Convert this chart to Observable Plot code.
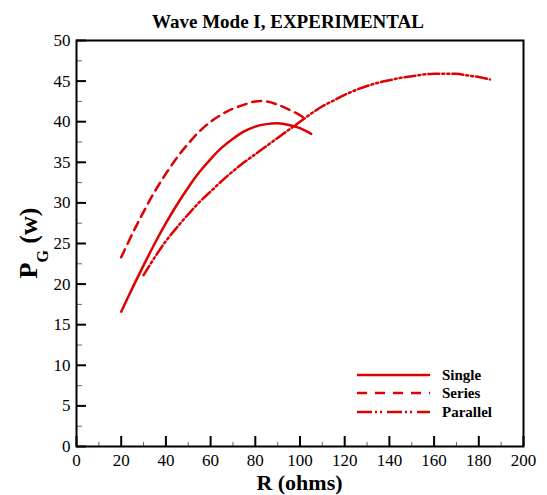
<!DOCTYPE html>
<html>
<head>
<meta charset="utf-8">
<script src="https://cdn.jsdelivr.net/npm/d3@7"></script>
<script src="https://cdn.jsdelivr.net/npm/@observablehq/plot@0.6"></script>
<style>
  html, body { margin: 0; padding: 0; background: #fff; }
  #chart svg { display: block; }
  #chart svg, #chart svg text { font-family: "Liberation Serif", "Times New Roman", Times, serif !important; }
</style>
</head>
<body>
<div id="chart"></div>
<script>
// ---- data ----
const titleText = "Wave Mode I, EXPERIMENTAL";
const seriesNames = ["Single", "Series", "Parallel"];

const singleR = [20, 25, 30, 35, 40, 45, 50, 55, 60, 65, 70, 75, 80, 85, 90, 95, 100, 105];
const singleP = [16.6, 19.5, 22.3, 25.0, 27.5, 29.8, 31.9, 33.8, 35.4, 36.8, 37.9, 38.8, 39.4, 39.7, 39.8, 39.6, 39.2, 38.5];

const seriesR = [20, 25, 30, 35, 40, 45, 50, 55, 60, 65, 70, 75, 80, 85, 90, 95, 100, 102];
const seriesP = [23.3, 26.2, 28.9, 31.4, 33.6, 35.6, 37.3, 38.8, 40.0, 40.9, 41.6, 42.1, 42.5, 42.5, 42.1, 41.5, 40.8, 40.4];

const parallelR = [30, 35, 40, 45, 50, 55, 60, 65, 70, 75, 80, 85, 90, 95, 100, 105, 110, 115, 120, 125, 130, 135, 140, 145, 150, 155, 160, 165, 170, 175, 180, 185];
const parallelP = [21.1, 23.3, 25.3, 27.0, 28.6, 30.1, 31.4, 32.7, 33.9, 35.0, 36.0, 37.0, 38.0, 39.0, 40.0, 41.0, 41.9, 42.6, 43.3, 43.9, 44.4, 44.8, 45.1, 45.4, 45.6, 45.8, 45.9, 45.9, 45.9, 45.7, 45.5, 45.2];

const xMajor = [0, 20, 40, 60, 80, 100, 120, 140, 160, 180, 200];
const xMinor = [10, 30, 50, 70, 90, 110, 130, 150, 170, 190];
const yMajor = [0, 5, 10, 15, 20, 25, 30, 35, 40, 45, 50];
const yMinor = [2.5, 7.5, 12.5, 17.5, 22.5, 27.5, 32.5, 37.5, 42.5, 47.5];

// ---- layout / style ----
const W = 547, H = 495;
const mL = 76, mR = 24, mT = 40, mB = 49;
const innerW = W - mL - mR, innerH = H - mT - mB;
const red = "#e00000";
const dashes = { Single: null, Series: "9,6", Parallel: "11,3,2,3,2,3" };
const legendDashes = { Single: null, Series: "10,8", Parallel: "15,3,2,3,2,5" };
const font = "'Liberation Serif', 'Times New Roman', Times, serif";

const rows = [
  ...singleR.map((r, i) => ({ s: "Single", R: r, P: singleP[i] })),
  ...seriesR.map((r, i) => ({ s: "Series", R: r, P: seriesP[i] })),
  ...parallelR.map((r, i) => ({ s: "Parallel", R: r, P: parallelP[i] }))
];

const plot = Plot.plot({
  width: W, height: H,
  marginLeft: mL, marginRight: mR, marginTop: mT, marginBottom: mB,
  style: { fontFamily: font, background: "#fff", color: "#000", overflow: "visible" },
  x: { domain: [0, 200] },
  y: { domain: [0, 50] },
  marks: [
    Plot.tickX(xMinor, { x: d => d, insetTop: innerH - 4, stroke: "#666", strokeWidth: 1 }),
    Plot.tickX(xMajor, { x: d => d, insetTop: innerH - 10, stroke: "#000", strokeWidth: 2 }),
    Plot.tickY(yMinor, { y: d => d, insetRight: innerW - 6, stroke: "#666", strokeWidth: 1 }),
    Plot.tickY(yMajor, { y: d => d, insetRight: innerW - 10, stroke: "#000", strokeWidth: 2 }),
    ...seriesNames.map(name =>
      Plot.line(rows.filter(d => d.s === name), {
        x: "R", y: "P", stroke: red, strokeWidth: 2.5,
        strokeDasharray: dashes[name], curve: "catmull-rom"
      })
    ),
    Plot.frame({ stroke: "#000", strokeWidth: 2 }),
    Plot.axisX({ ticks: xMajor, tickSize: 0, tickPadding: 7, fontSize: 17, label: null, fontFamily: font }),
    Plot.axisY({ ticks: yMajor, tickSize: 0, tickPadding: 6, fontSize: 17, label: null, fontFamily: font })
  ]
});

const svg = d3.select(plot);

// title
svg.append("text")
  .attr("x", 288).attr("y", 28)
  .attr("text-anchor", "middle")
  .attr("font-family", font).attr("font-weight", "bold").attr("font-size", 19)
  .attr("fill", "#000")
  .text(titleText);

// x label
svg.append("text")
  .attr("x", mL + innerW / 2).attr("y", 490)
  .attr("text-anchor", "middle")
  .attr("font-family", font).attr("font-weight", "bold").attr("font-size", 22)
  .attr("fill", "#000")
  .text("R (ohms)");

// y label with subscript
const yl = svg.append("text")
  .attr("transform", `translate(37,${mT + innerH / 2}) rotate(-90)`)
  .attr("text-anchor", "middle")
  .attr("font-family", font).attr("font-weight", "bold").attr("font-size", 26)
  .attr("fill", "#000");
yl.append("tspan").text("P");
yl.append("tspan").attr("dy", 11).attr("font-size", 16).text("G");
yl.append("tspan").attr("dy", -11).text(" (w)");

// legend
const lg = svg.append("g");
seriesNames.forEach((name, i) => {
  const y = [375, 393, 412][i];
  lg.append("line")
    .attr("x1", 357).attr("x2", 430).attr("y1", y).attr("y2", y)
    .attr("stroke", red).attr("stroke-width", 2.5)
    .attr("stroke-dasharray", legendDashes[name]);
  lg.append("text")
    .attr("x", 442).attr("y", y).attr("dy", "0.35em")
    .attr("text-anchor", "start")
    .attr("font-family", font).attr("font-weight", "bold").attr("font-size", 15)
    .attr("fill", "#000")
    .text(name);
});

document.getElementById("chart").appendChild(plot);
</script>
</body>
</html>
